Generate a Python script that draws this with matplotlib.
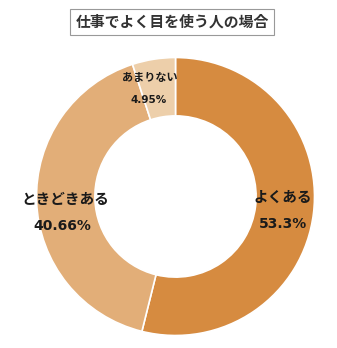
import matplotlib
matplotlib.use("Agg")
import matplotlib.pyplot as plt

plt.rcParams['font.family'] = ['Noto Sans CJK JP', 'DejaVu Sans']

title = "仕事でよく目を使う人の場合"
categories = ["よくある", "ときどきある", "あまりない"]
values = [53.3, 40.66, 4.95]
pct_labels = ["53.3%", "40.66%", "4.95%"]
colors = ["#D68B40", "#E2AE78", "#EDCFAA"]

W, H = 337, 348
fig = plt.figure(figsize=(W / 100, H / 100), dpi=100)
ax = fig.add_axes([0.0, 0.0, 1.0, 1.0])

cx, cy, R = 175.5, H - 196.5, 139
ax.pie(values, colors=colors, startangle=90, counterclock=False,
       radius=R, center=(cx, cy),
       wedgeprops=dict(width=R * 0.42, edgecolor='white', linewidth=1.2),
       frame=True)
ax.set_xlim(0, W)
ax.set_ylim(0, H)
ax.set_aspect('auto')
ax.axis('off')

label_pos = [(283, 197, 283, 224), (65, 199, 62, 226), (150, 77, 149, 100)]
sizes = [10.5, 10.5, 8]
psizes = [10, 10, 7.5]
for (lx, ly, px, py), c, p, s, ps in zip(label_pos, categories, pct_labels, sizes, psizes):
    ax.text(lx, H - ly, c, ha='center', va='center', fontsize=s, fontweight='bold', color='#1a1a1a')
    ax.text(px, H - py, p, ha='center', va='center', fontsize=ps, fontweight='bold', color='#1a1a1a',
            family=['DejaVu Sans'])

ax.text(172, H - 22, title, ha='center', va='center', fontsize=10.7, fontweight='bold', color='#333333',
        bbox=dict(boxstyle='square,pad=0.33', facecolor='white', edgecolor='#999999', linewidth=0.8))

fig.savefig("out.png", dpi=100, facecolor='white')
